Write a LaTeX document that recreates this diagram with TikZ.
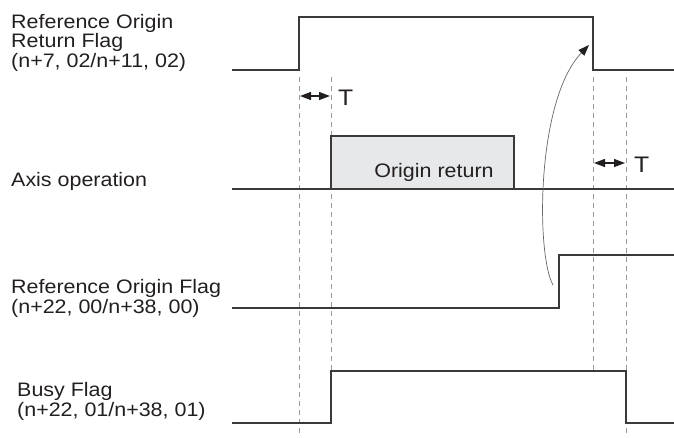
\documentclass[tikz,border=0pt]{standalone}
\usepackage{fontspec}
\setmainfont[FakeStretch=1.1]{Liberation Sans}
\usetikzlibrary{arrows.meta}
\definecolor{sig}{HTML}{3A3A3A}
\definecolor{guide}{HTML}{9A9A9A}
\definecolor{boxfill}{HTML}{E6E8EA}
\definecolor{ink}{HTML}{231F20}
\begin{document}
\begin{tikzpicture}[x=1pt,y=-1pt,
  signal/.style={draw=sig,line width=1.4pt,line join=miter},
  guideline/.style={draw=guide,line width=0.8pt,dash pattern=on 5pt off 4pt},
  lbl/.style={anchor=base west,inner sep=0pt,align=left,font=\fontsize{19.5}{19.5}\selectfont,text=ink},
  tlbl/.style={anchor=base west,inner sep=0pt,font=\fontsize{22.5}{24}\selectfont,text=ink},
  tarrow/.style={{Triangle[length=11pt,width=8pt]}-{Triangle[length=11pt,width=8pt]},line width=1.3pt,draw=ink,fill=ink},
  curvearrow/.style={-{Triangle[length=11pt,width=8pt]},draw=black!60,line width=0.7pt},
  curvetip/.style={fill=ink}]
\useasboundingbox (0,0) rectangle (674,437);

% labels (base anchor = baseline of the last line)
\node[lbl] (l1) at (11,67) {Reference Origin\\Return Flag\\(n+7, 02/n+11, 02)};
\node[lbl] (l2) at (11,186) {Axis operation};
\node[lbl] (l3) at (11,313) {Reference Origin Flag\\(n+22, 00/n+38, 00)};
\node[lbl] (l4) at (17,416) {Busy Flag\\(n+22, 01/n+38, 01)};

% guide lines
\coordinate (gA1) at (299,77); \coordinate (gA2) at (299,437);
\coordinate (gB1) at (331,77); \coordinate (gB2) at (331,371);
\coordinate (gC1) at (593,77); \coordinate (gC2) at (593,371);
\coordinate (gD1) at (626,77); \coordinate (gD2) at (626,437);
\draw[guideline] (gA1) -- (gA2);
\draw[guideline] (gB1) -- (gB2);
\draw[guideline] (gC1) -- (gC2);
\draw[guideline] (gD1) -- (gD2);

% origin return box
\coordinate (bx1) at (331,136); \coordinate (bx2) at (514,189);
\fill[boxfill] (bx1) rectangle (bx2);
\node[lbl,anchor=base] (orl) at (434,177) {Origin return};

% signals
\coordinate (s1a) at (232,70); \coordinate (s1b) at (299,70); \coordinate (s1c) at (299,17);
\coordinate (s1d) at (593,17); \coordinate (s1e) at (593,70); \coordinate (s1f) at (674,70);
\draw[signal] (s1a) -- (s1b) -- (s1c) -- (s1d) -- (s1e) -- (s1f);

\coordinate (s2a) at (232,189); \coordinate (s2b) at (674,189);
\draw[signal] (s2a) -- (s2b);
\draw[signal,line width=1.1pt] (331,189) -- (331,136) -- (514,136) -- (514,189);

\coordinate (s3a) at (232,308); \coordinate (s3b) at (559,308); \coordinate (s3c) at (559,255); \coordinate (s3d) at (674,255);
\draw[signal] (s3a) -- (s3b) -- (s3c) -- (s3d);

\coordinate (s4a) at (232,423); \coordinate (s4b) at (331,423); \coordinate (s4c) at (331,371);
\coordinate (s4d) at (626,371); \coordinate (s4e) at (626,423); \coordinate (s4f) at (674,423);
\draw[signal] (s4a) -- (s4b) -- (s4c) -- (s4d) -- (s4e) -- (s4f);

% T arrows
\coordinate (t1a) at (300,96); \coordinate (t1b) at (330,96);
\draw[tarrow] (t1a) -- (t1b);
\node[tlbl] (t1) at (338,105) {T};
\coordinate (t2a) at (594,163); \coordinate (t2b) at (625,163);
\draw[tarrow] (t2a) -- (t2b);
\node[tlbl] (t2) at (634,172) {T};

% curved arrow
\coordinate (ca) at (553,285); \coordinate (cb) at (589,45);
\draw[curvearrow,-{Triangle[length=11pt,width=8pt,fill=ink,color=ink]}] (ca) .. controls (536,255) and (536,100) .. (cb);
\end{tikzpicture}
\end{document}
